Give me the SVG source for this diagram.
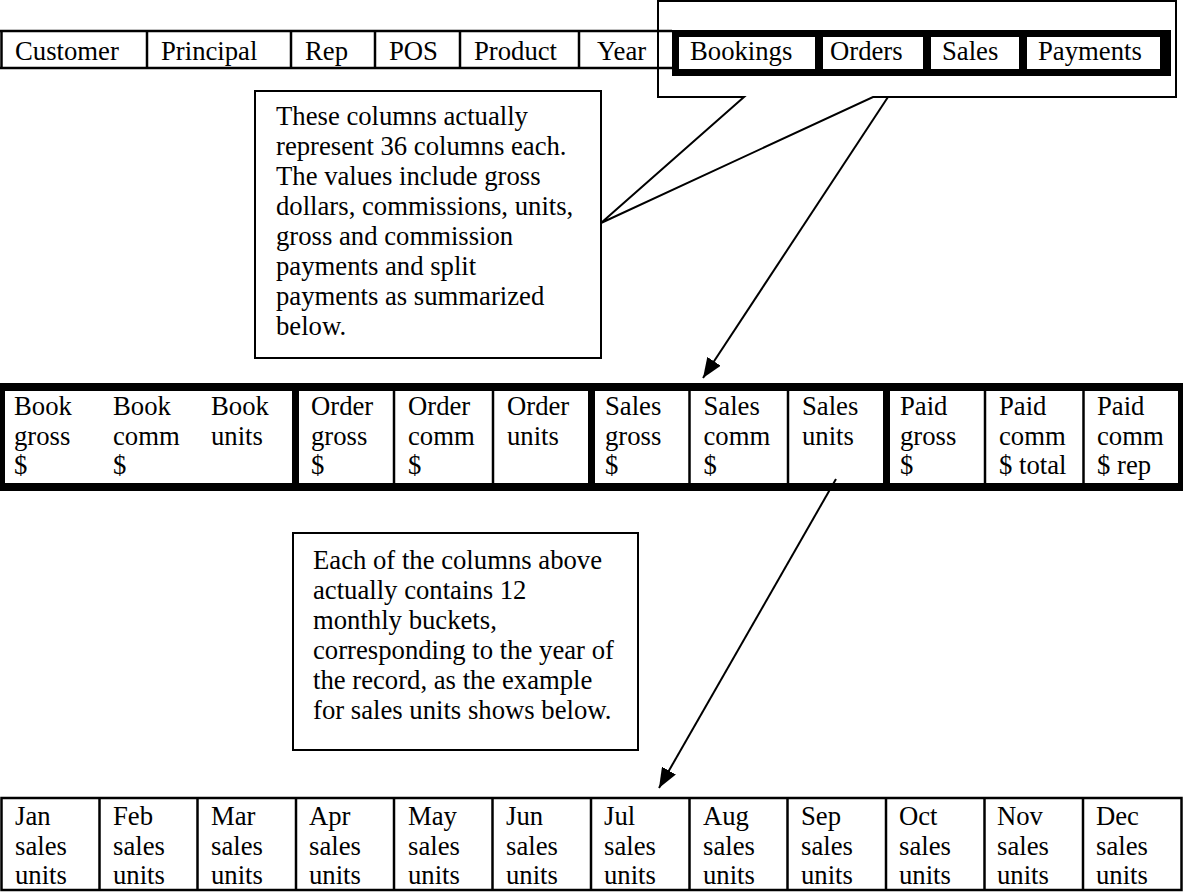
<svg xmlns="http://www.w3.org/2000/svg" width="1183" height="892" viewBox="0 0 1183 892">
<defs>
<style>
text{font-family:"Liberation Serif","Times New Roman",serif;font-size:26.7px;fill:#000}
.thin{stroke:#000;stroke-width:2.5;fill:none}
.co{stroke:#000;stroke-width:2;fill:none}
.box{stroke:#000;stroke-width:2;fill:#fff}
</style>
<marker id="ah" markerWidth="22" markerHeight="16" refX="20" refY="8" orient="auto" markerUnits="userSpaceOnUse">
<path d="M0,0 L20,8 L0,16 Z" fill="#000"/>
</marker>
</defs>
<rect width="1183" height="892" fill="#fff"/>

<g id="top-row">
<line class="thin" x1="0" y1="31" x2="672" y2="31"/>
<line class="thin" x1="0" y1="68" x2="672" y2="68"/>
<line class="thin" x1="1.5" y1="31" x2="1.5" y2="68"/>
<line class="thin" x1="147" y1="31" x2="147" y2="68"/>
<line class="thin" x1="291" y1="31" x2="291" y2="68"/>
<line class="thin" x1="375" y1="31" x2="375" y2="68"/>
<line class="thin" x1="460" y1="31" x2="460" y2="68"/>
<line class="thin" x1="579" y1="31" x2="579" y2="68"/>
<text x="15" y="60">Customer</text>
<text x="161" y="60">Principal</text>
<text x="305" y="60">Rep</text>
<text x="389" y="60">POS</text>
<text x="474" y="60">Product</text>
<text x="597" y="60">Year</text>
</g>

<g id="callout-top">
<path class="co" d="M658,1 L1176,1 L1176,97 L873,97 L601,223 L744,97 L658,97 Z"/>
</g>

<g id="measure-box">
<rect x="672" y="30" width="499" height="46" fill="#000"/>
<rect x="679" y="37" width="136" height="32" fill="#fff"/>
<rect x="823" y="37" width="100" height="32" fill="#fff"/>
<rect x="931" y="37" width="88" height="32" fill="#fff"/>
<rect x="1027" y="37" width="133" height="32" fill="#fff"/>
<text x="690" y="60">Bookings</text>
<text x="830" y="60">Orders</text>
<text x="942" y="60">Sales</text>
<text x="1038" y="60">Payments</text>
</g>

<g id="note-columns">
<rect class="box" x="255" y="91" width="346" height="267"/>
<text x="276" y="125">These columns actually</text>
<text x="276" y="155">represent 36 columns each.</text>
<text x="276" y="185">The values include gross</text>
<text x="276" y="215">dollars, commissions, units,</text>
<text x="276" y="245">gross and commission</text>
<text x="276" y="275">payments and split</text>
<text x="276" y="305">payments as summarized</text>
<text x="276" y="335">below.</text>
</g>

<g id="values-table">
<rect x="0" y="383" width="1183" height="108" fill="#000"/>
<rect x="5" y="391" width="287" height="92" fill="#fff"/>
<rect x="299" y="391" width="289" height="92" fill="#fff"/>
<rect x="595" y="391" width="288" height="92" fill="#fff"/>
<rect x="890" y="391" width="288" height="92" fill="#fff"/>
<line class="thin" x1="394" y1="391" x2="394" y2="483"/>
<line class="thin" x1="493" y1="391" x2="493" y2="483"/>
<line class="thin" x1="689.5" y1="391" x2="689.5" y2="483"/>
<line class="thin" x1="788" y1="391" x2="788" y2="483"/>
<line class="thin" x1="985" y1="391" x2="985" y2="483"/>
<line class="thin" x1="1083.5" y1="391" x2="1083.5" y2="483"/>
<text x="14" y="415">Book</text><text x="14" y="444.5">gross</text><text x="14" y="474">$</text>
<text x="113" y="415">Book</text><text x="113" y="444.5">comm</text><text x="113" y="474">$</text>
<text x="211" y="415">Book</text><text x="211" y="444.5">units</text>
<text x="311" y="415">Order</text><text x="311" y="444.5">gross</text><text x="311" y="474">$</text>
<text x="408" y="415">Order</text><text x="408" y="444.5">comm</text><text x="408" y="474">$</text>
<text x="507" y="415">Order</text><text x="507" y="444.5">units</text>
<text x="605" y="415">Sales</text><text x="605" y="444.5">gross</text><text x="605" y="474">$</text>
<text x="703.5" y="415">Sales</text><text x="703.5" y="444.5">comm</text><text x="703.5" y="474">$</text>
<text x="802" y="415">Sales</text><text x="802" y="444.5">units</text>
<text x="900" y="415">Paid</text><text x="900" y="444.5">gross</text><text x="900" y="474">$</text>
<text x="999" y="415">Paid</text><text x="999" y="444.5">comm</text><text x="999" y="474">$ total</text>
<text x="1097" y="415">Paid</text><text x="1097" y="444.5">comm</text><text x="1097" y="474">$ rep</text>
</g>

<g id="note-monthly">
<rect class="box" x="293" y="533" width="345" height="217"/>
<text x="313" y="568.5">Each of the columns above</text>
<text x="313" y="598.5">actually contains 12</text>
<text x="313" y="628.5">monthly buckets,</text>
<text x="313" y="658.5">corresponding to the year of</text>
<text x="313" y="688.5">the record, as the example</text>
<text x="313" y="718.5">for sales units shows below.</text>
</g>

<g id="monthly-table">
<rect class="thin" x="1.5" y="798" width="1180" height="92"/>
<line class="thin" x1="99.5" y1="798" x2="99.5" y2="890"/>
<line class="thin" x1="197.5" y1="798" x2="197.5" y2="890"/>
<line class="thin" x1="296" y1="798" x2="296" y2="890"/>
<line class="thin" x1="394" y1="798" x2="394" y2="890"/>
<line class="thin" x1="492.5" y1="798" x2="492.5" y2="890"/>
<line class="thin" x1="591" y1="798" x2="591" y2="890"/>
<line class="thin" x1="689.5" y1="798" x2="689.5" y2="890"/>
<line class="thin" x1="787.5" y1="798" x2="787.5" y2="890"/>
<line class="thin" x1="886" y1="798" x2="886" y2="890"/>
<line class="thin" x1="984.5" y1="798" x2="984.5" y2="890"/>
<line class="thin" x1="1083" y1="798" x2="1083" y2="890"/>
<text x="15" y="825">Jan</text><text x="15" y="854.5">sales</text><text x="15" y="884">units</text>
<text x="113" y="825">Feb</text><text x="113" y="854.5">sales</text><text x="113" y="884">units</text>
<text x="211" y="825">Mar</text><text x="211" y="854.5">sales</text><text x="211" y="884">units</text>
<text x="309" y="825">Apr</text><text x="309" y="854.5">sales</text><text x="309" y="884">units</text>
<text x="408" y="825">May</text><text x="408" y="854.5">sales</text><text x="408" y="884">units</text>
<text x="506" y="825">Jun</text><text x="506" y="854.5">sales</text><text x="506" y="884">units</text>
<text x="604" y="825">Jul</text><text x="604" y="854.5">sales</text><text x="604" y="884">units</text>
<text x="703" y="825">Aug</text><text x="703" y="854.5">sales</text><text x="703" y="884">units</text>
<text x="801" y="825">Sep</text><text x="801" y="854.5">sales</text><text x="801" y="884">units</text>
<text x="899" y="825">Oct</text><text x="899" y="854.5">sales</text><text x="899" y="884">units</text>
<text x="997" y="825">Nov</text><text x="997" y="854.5">sales</text><text x="997" y="884">units</text>
<text x="1096" y="825">Dec</text><text x="1096" y="854.5">sales</text><text x="1096" y="884">units</text>
</g>

<g id="connectors">
<line class="co" x1="888" y1="97" x2="703" y2="378" marker-end="url(#ah)"/>
<line class="co" x1="836" y1="479" x2="659" y2="788" marker-end="url(#ah)"/>
</g>
</svg>
